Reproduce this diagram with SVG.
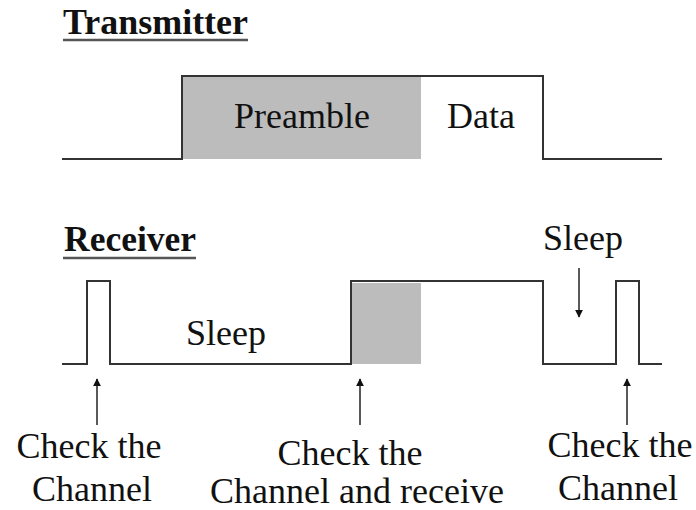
<svg xmlns="http://www.w3.org/2000/svg" width="696" height="510" viewBox="0 0 696 510">
<style>
text{font-family:'Liberation Serif','DejaVu Serif',serif;fill:#111;font-size:36px}
.t{font-weight:bold}
.c{text-anchor:middle}
.w{fill:none;stroke:#333;stroke-width:2}
.ul{stroke:#555;stroke-width:2.5}
.grey{fill:#bcbcbc}
.arr{stroke:#222;stroke-width:1.5;fill:none;marker-end:url(#ah)}
</style>
<defs>
<marker id="ah" viewBox="0 0 10 10" refX="9" refY="5" markerWidth="8" markerHeight="10" markerUnits="userSpaceOnUse" orient="auto">
<path d="M0,0 L10,5 L0,10 z" fill="#111"/>
</marker>
</defs>
<rect width="696" height="510" fill="#fff"/>
<g id="transmitter-title">
<text class="t" x="63" y="34" textLength="185" lengthAdjust="spacingAndGlyphs">Transmitter</text>
<line class="ul" x1="63" y1="40" x2="248" y2="40"/>
</g>
<g id="transmitter-signal">
<rect class="grey" x="182" y="77" width="239" height="82"/>
<path class="w" d="M62,159 H182 V76 H543 V159 H662"/>
<text class="c" x="302" y="128">Preamble</text>
<text class="c" x="481" y="128">Data</text>
</g>
<g id="receiver-title">
<text class="t" x="64" y="251" font-size="31" textLength="132" lengthAdjust="spacingAndGlyphs">Receiver</text>
<line class="ul" x1="63" y1="258" x2="196" y2="258"/>
</g>
<g id="receiver-signal">
<rect class="grey" x="351" y="283" width="70" height="81"/>
<path class="w" d="M62,364 H87 V281 H110 V364 H351 V281 H543 V364 H616 V281 H639 V364 H662"/>
<text class="c" x="226" y="345">Sleep</text>
<text class="c" x="583" y="250">Sleep</text>
</g>
<g id="label-left">
<text class="c" x="89" y="458">Check the</text>
<text class="c" x="92" y="501">Channel</text>
</g>
<g id="label-middle">
<text class="c" x="350" y="465">Check the</text>
<text class="c" x="357" y="503">Channel and receive</text>
</g>
<g id="label-right">
<text class="c" x="620" y="457">Check the</text>
<text class="c" x="618" y="500">Channel</text>
</g>
<g id="connectors">
<line class="arr" x1="97" y1="425" x2="97" y2="379"/>
<line class="arr" x1="360" y1="425" x2="360" y2="379"/>
<line class="arr" x1="627" y1="425" x2="627" y2="379"/>
<line class="arr" x1="579" y1="268" x2="579" y2="317"/>
</g>
</svg>
